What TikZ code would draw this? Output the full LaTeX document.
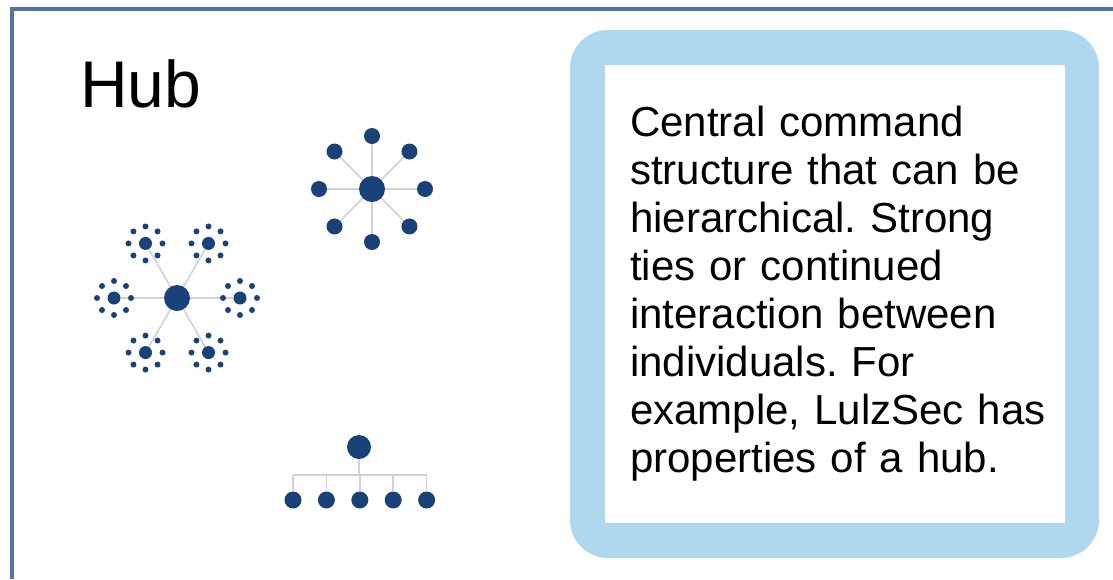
\documentclass[tikz,border=0pt]{standalone}
\usepackage{fontspec}
\setmainfont{Liberation Sans}
\usetikzlibrary{positioning}
\usetikzlibrary{backgrounds}
\usetikzlibrary{calc}

\definecolor{hubblue}{RGB}{24,66,120}
\definecolor{panelblue}{RGB}{175,215,237}
\definecolor{frameblue}{RGB}{82,116,164}
\definecolor{linkgrey}{RGB}{210,210,213}

\frenchspacing

\begin{document}
\begin{tikzpicture}[x=1pt,y=-1pt,
    dot/.style={circle,fill=hubblue,inner sep=0pt},
    bighub/.style={dot,minimum size=26pt},
    satdot/.style={dot,minimum size=16pt},
    subhub/.style={dot,minimum size=13pt},
    tinydot/.style={dot,minimum size=6pt},
    leafdot/.style={dot,minimum size=17pt},
    link/.style={draw=linkgrey,line width=1.6pt},
    panel/.style={fill=panelblue,rounded corners=38pt,inner sep=0pt}]
  \useasboundingbox (0,0) rectangle (1113,579);
  \draw[frameblue,line width=3.5pt] (12,579) -- (12,9) -- (1113,9);

  % title
  \node[anchor=base west,inner sep=0pt,font=\fontsize{66}{70}\selectfont] (title) at (80,107) {Hub};

  % star with eight members
  \node[bighub] (A) at (372,189) {};
  \foreach \i in {0,...,7}
    \node[satdot] (A\i) at ($(A)+(\i*45:53)$) {};

  % star of stars
  \node[bighub] (B) at (177,298) {};
  \foreach \i in {0,...,5}{
    \node[subhub] (B\i) at ($(B)+(\i*60:63)$) {};
    \foreach \j in {0,...,7}
      \node[tinydot] (B\i-\j) at ($(B\i)+(\j*45:17)$) {};
  }

  % tree
  \node[bighub,minimum size=24pt] (root) at (359,447) {};
  \coordinate (bar) at (359,475);
  \node[leafdot] (t1) at (293,500) {};
  \node[leafdot] (t2) [right=16pt of t1] {};
  \node[leafdot] (t3) [right=16pt of t2] {};
  \node[leafdot] (t4) [right=16pt of t3] {};
  \node[leafdot] (t5) [right=16pt of t4] {};

  \begin{scope}[on background layer]
    \foreach \i in {0,...,7}
      \draw[link] (A) -- (A\i);
    \foreach \i in {0,...,5}
      \draw[link] (B) -- (B\i);
    \draw[link] (root) -- (bar);
    \draw[link] (t1 |- bar) -- (t5 |- bar);
    \foreach \i in {1,...,5}
      \draw[link] (t\i |- bar) -- (t\i);
  \end{scope}

  % text panel
  \node[panel,minimum width=529pt,minimum height=528pt] (outer) at (834.5,294) {};
  \node[fill=white,inner sep=0pt,minimum width=460pt,minimum height=458pt] (inner) at (835,294) {};
  \node[anchor=north west,inner sep=0pt,text width=440pt,align=left,
        font=\fontsize{42}{48}\selectfont] (desc) at (630,106)
    {Central command\\ structure that can be\\ hierarchical. Strong\\ ties or continued\\ interaction between\\ individuals. For\\ example, LulzSec has\\ properties of a hub.};
\end{tikzpicture}
\end{document}
